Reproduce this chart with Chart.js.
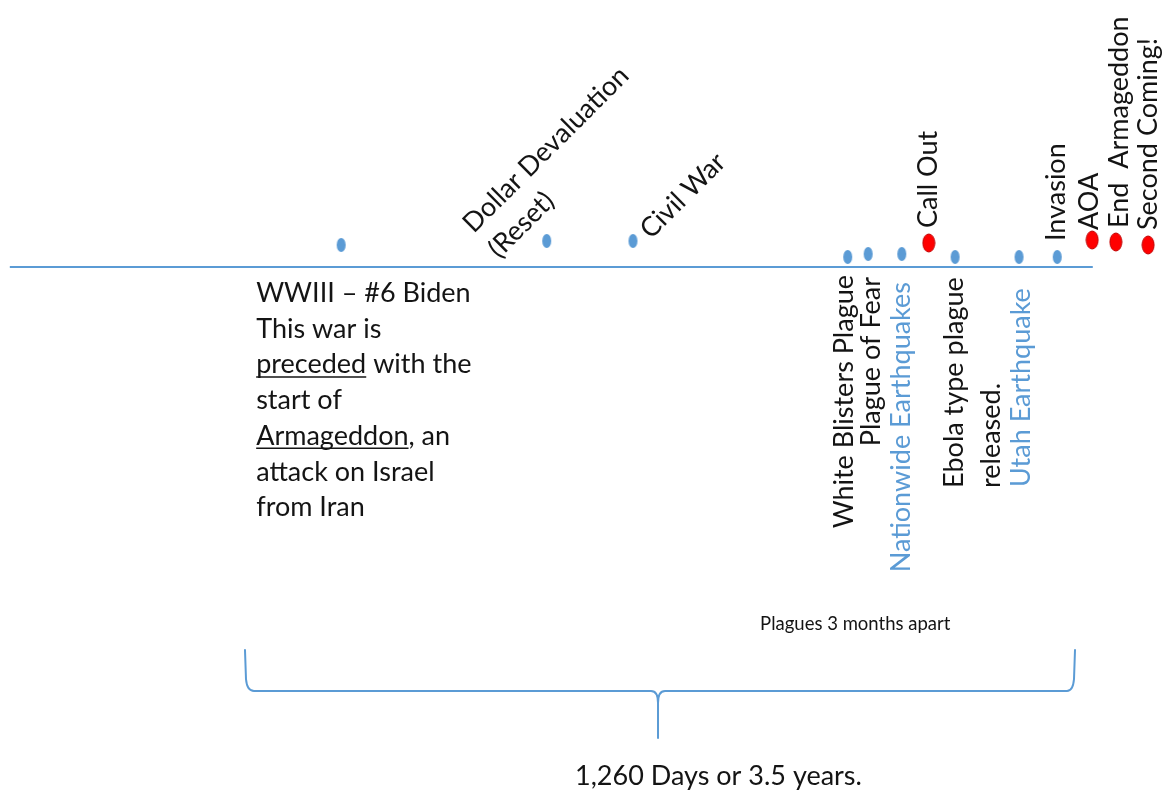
<!DOCTYPE html>
<html lang="en">
<head>
    <meta charset="UTF-8">
    <title>1,260 Days timeline</title>
    <script src="https://cdn.jsdelivr.net/npm/chart.js"></script>
    <style>
        body {
            margin: 0;
            padding: 0;
            background-color: #fff;
        }
        canvas {
            display: block;
        }
    </style>
</head>
<body>

    <canvas id="timeline" width="1164" height="791"></canvas>

    <script>
        // Timeline data (days from the start of the 1,260 day span)
        const eventNames = ['WWIII – #6 Biden', 'Dollar Devaluation (Reset)', 'Civil War', 'White Blisters Plague',
            'Plague of Fear', 'Nationwide Earthquakes', 'Call Out', 'Ebola type plague released.',
            'Utah Earthquake', 'Invasion', 'AOA', 'End  Armageddon', 'Second Coming!'];
        const eventDay = [146, 458, 589, 915, 946, 997, 1038, 1078, 1175, 1233, 1286, 1322, 1371];
        const eventHeight = [22, 26, 26, 10, 13, 13, 24, 10, 10, 10, 27, 25, 22];
        const eventKind = ['blue', 'blue', 'blue', 'blue', 'blue', 'blue', 'red', 'blue', 'blue', 'blue', 'red', 'red', 'red'];
        const spanDays = 1260;
        const timelineStart = -357;
        const timelineEnd = 1287;

        const BLUE = '#5B9BD5';
        const FONT = 'Lato, "Open Sans", sans-serif';

        // label layout, offsets are pixels from the event dot / timeline
        const labelLayout = [
            { i: 0, rot: 0, dx: -85, dy: 35, lh: 35.7, align: 'left',
              lines: ['WWIII – #6 Biden', 'This war is', 'preceded with the', 'start of', 'Armageddon, an', 'attack on Israel', 'from Iran'],
              underline: { 2: 'preceded', 4: 'Armageddon' } },
            { i: 1, rot: -45, dx: -73, dy: -33, lh: 36, align: 'left', lines: ['Dollar Devaluation', '(Reset)'] },
            { i: 2, rot: -45, dx: 18, dy: -27, lh: 36, align: 'left', lines: ['Civil War'] },
            { i: 3, rot: -90, dx: 5, dy: 8, align: 'right', lines: ['White Blisters Plague'] },
            { i: 4, rot: -90, dx: 12, dy: 10, align: 'right', lines: ['Plague of Fear'] },
            { i: 5, rot: -90, dx: 8, dy: 15, align: 'right', color: BLUE, lines: ['Nationwide Earthquakes'] },
            { i: 6, rot: -90, dx: 8, dy: -39, align: 'left', lines: ['Call Out'] },
            { i: 7, rot: -90, dx: 8, dy: 221, lh: 37, align: 'left', lines: ['Ebola type plague', 'released.'] },
            { i: 8, rot: -90, dx: 11, dy: 220, align: 'left', color: BLUE, lines: ['Utah Earthquake'] },
            { i: 9, rot: -90, dx: 8, dy: -26, align: 'left', lines: ['Invasion'] },
            { i: 10, rot: -90, dx: 6, dy: -37, align: 'left', lines: ['AOA'] },
            { i: 11, rot: -90, dx: 12, dy: -39, align: 'left', lines: ['End  Armageddon'] },
            { i: 12, rot: -90, dx: 9, dy: -37, align: 'left', lines: ['Second Coming!'] }
        ];

        // oval markers like the drawing
        function ovalDot(w, h, fill, stroke) {
            const c = document.createElement('canvas');
            c.width = w + 2;
            c.height = h + 2;
            const g = c.getContext('2d');
            g.beginPath();
            g.ellipse(c.width / 2, c.height / 2, w / 2, h / 2, 0, 0, Math.PI * 2);
            g.fillStyle = fill;
            g.fill();
            if (stroke) {
                g.lineWidth = 1;
                g.strokeStyle = stroke;
                g.stroke();
            }
            return c;
        }
        const blueDot = ovalDot(9, 14, BLUE, null);
        const redDot = ovalDot(12, 18, '#FF0000', '#C00000');

        const annotations = {
            id: 'annotations',
            afterDatasetsDraw(chart) {
                const ctx = chart.ctx;
                const xs = chart.scales.x;
                const ys = chart.scales.y;
                const lineY = ys.getPixelForValue(0);

                ctx.save();
                ctx.font = '27px ' + FONT;
                ctx.textBaseline = 'alphabetic';
                labelLayout.forEach(l => {
                    const ax = xs.getPixelForValue(eventDay[l.i]) + l.dx;
                    const ay = lineY + l.dy;
                    ctx.save();
                    ctx.translate(ax, ay);
                    ctx.rotate(l.rot * Math.PI / 180);
                    ctx.textAlign = l.align;
                    ctx.fillStyle = l.color || '#141414';
                    ctx.strokeStyle = '#141414';
                    l.lines.forEach((t, k) => {
                        const y = k * (l.lh || 30);
                        ctx.fillText(t, 0, y);
                        if (l.underline && l.underline[k]) {
                            const w = ctx.measureText(l.underline[k]).width;
                            ctx.lineWidth = 1.5;
                            ctx.beginPath();
                            ctx.moveTo(0, y + 3.5);
                            ctx.lineTo(w, y + 3.5);
                            ctx.stroke();
                        }
                    });
                    ctx.restore();
                });

                // curly bracket under the 1,260 days
                const L = xs.getPixelForValue(0);
                const R = xs.getPixelForValue(spanDays);
                const C = xs.getPixelForValue(627);
                const top = ys.getPixelForValue(-383);
                const H = ys.getPixelForValue(-424);
                const bottom = ys.getPixelForValue(-471);
                ctx.strokeStyle = BLUE;
                ctx.lineWidth = 2;
                ctx.lineCap = 'round';
                ctx.beginPath();
                ctx.moveTo(L, top);
                ctx.lineTo(L + 1, H - 12);
                ctx.quadraticCurveTo(L + 2, H, L + 9, H);
                ctx.lineTo(C - 7, H);
                ctx.quadraticCurveTo(C, H, C, H + 12);
                ctx.lineTo(C, bottom);
                ctx.moveTo(C, H + 12);
                ctx.quadraticCurveTo(C, H, C + 7, H);
                ctx.lineTo(R - 8, H);
                ctx.quadraticCurveTo(R - 2, H, R - 1, H - 12);
                ctx.lineTo(R, top);
                ctx.stroke();

                ctx.fillStyle = '#141414';
                ctx.textAlign = 'left';
                ctx.font = '18.5px ' + FONT;
                ctx.fillText('Plagues 3 months apart', xs.getPixelForValue(782), ys.getPixelForValue(-363));
                ctx.font = '27px ' + FONT;
                ctx.fillText('1,260 Days or 3.5 years.', xs.getPixelForValue(501), ys.getPixelForValue(-518));
                ctx.restore();
            }
        };

        const ctx = document.getElementById('timeline').getContext('2d');
        const timelineChart = new Chart(ctx, {
            type: 'scatter',
            data: {
                datasets: [{
                    type: 'line',
                    label: 'timeline',
                    data: [{ x: timelineStart, y: 0 }, { x: timelineEnd, y: 0 }],
                    borderColor: BLUE,
                    borderWidth: 2,
                    pointRadius: 0
                }, {
                    label: 'events',
                    data: eventDay.map((d, k) => ({ x: d, y: eventHeight[k], name: eventNames[k] })),
                    pointStyle: eventKind.map(k => k === 'red' ? redDot : blueDot),
                    backgroundColor: eventKind.map(k => k === 'red' ? '#FF0000' : BLUE)
                }]
            },
            options: {
                responsive: false,
                animation: false,
                layout: { padding: 0, autoPadding: false },
                plugins: {
                    legend: { display: false },
                    tooltip: { enabled: false }
                },
                scales: {
                    x: { type: 'linear', min: -371.9, max: 1395.1, display: false },
                    y: { type: 'linear', min: -524, max: 267, display: false }
                }
            },
            plugins: [annotations]
        });
    </script>

</body>
</html>
